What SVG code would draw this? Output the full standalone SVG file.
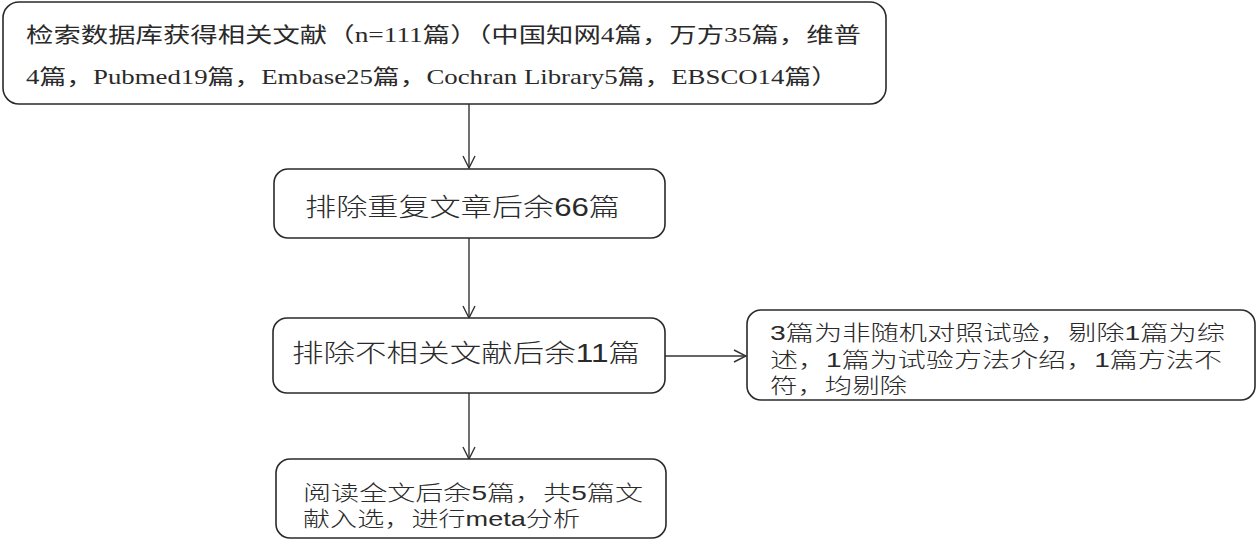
<svg xmlns="http://www.w3.org/2000/svg" width="1260" height="541" viewBox="0 0 1260 541">
<style>
.box{fill:#fff;stroke:#2a2a2a;stroke-width:1.6}
.serif{font-family:"Liberation Serif","Noto Sans CJK SC",serif;font-size:21px;fill:#2a2a2a}
.sans{font-family:"Liberation Sans","Noto Sans CJK SC",sans-serif;fill:#2a2a2a;font-weight:300}
.conn{stroke:#333;stroke-width:1.4;fill:none}
</style>
<defs>
<marker id="arr" viewBox="0 0 14 14" refX="13" refY="7" markerWidth="14" markerHeight="14" markerUnits="userSpaceOnUse" orient="auto">
<path d="M1,1 L13,7 L1,13" fill="none" stroke="#333" stroke-width="1.4"/>
</marker>
</defs>
<rect width="1260" height="541" fill="#fff"/>
<g id="connectors">
<line class="conn" x1="469" y1="104" x2="469" y2="168" marker-end="url(#arr)"/>
<line class="conn" x1="469" y1="238" x2="469" y2="318" marker-end="url(#arr)"/>
<line class="conn" x1="469" y1="393" x2="469" y2="459" marker-end="url(#arr)"/>
<line class="conn" x1="665" y1="356" x2="746" y2="356" marker-end="url(#arr)"/>
</g>
<g id="node1">
<rect class="box" x="3" y="2" width="883" height="102" rx="16"/>
<text class="serif" x="26" y="42" textLength="835" lengthAdjust="spacingAndGlyphs">检索数据库获得相关文献（n=111篇）（中国知网4篇，万方35篇，维普</text>
<text class="serif" x="26" y="84" textLength="812" lengthAdjust="spacingAndGlyphs">4篇，Pubmed19篇，Embase25篇，Cochran Library5篇，EBSCO14篇）</text>
</g>
<g id="node2">
<rect class="box" x="274" y="169" width="391" height="69" rx="14"/>
<text class="sans" x="305" y="216" font-size="25" textLength="315" lengthAdjust="spacingAndGlyphs">排除重复文章后余66篇</text>
</g>
<g id="node3">
<rect class="box" x="273" y="318" width="392" height="75" rx="14"/>
<text class="sans" x="292" y="362" font-size="25" textLength="348" lengthAdjust="spacingAndGlyphs">排除不相关文献后余11篇</text>
</g>
<g id="node4">
<rect class="box" x="276" y="459" width="390" height="79" rx="14"/>
<text class="sans" x="303" y="500" font-size="21" textLength="340" lengthAdjust="spacingAndGlyphs">阅读全文后余5篇，共5篇文</text>
<text class="sans" x="303" y="526" font-size="21" textLength="277" lengthAdjust="spacingAndGlyphs">献入选，进行meta分析</text>
</g>
<g id="node5">
<rect class="box" x="747" y="310" width="508" height="90" rx="14"/>
<text class="sans" x="770" y="340" font-size="21" textLength="455" lengthAdjust="spacingAndGlyphs">3篇为非随机对照试验，剔除1篇为综</text>
<text class="sans" x="770" y="367" font-size="21" textLength="452" lengthAdjust="spacingAndGlyphs">述，1篇为试验方法介绍，1篇方法不</text>
<text class="sans" x="770" y="393" font-size="21" textLength="137" lengthAdjust="spacingAndGlyphs">符，均剔除</text>
</g>
</svg>
